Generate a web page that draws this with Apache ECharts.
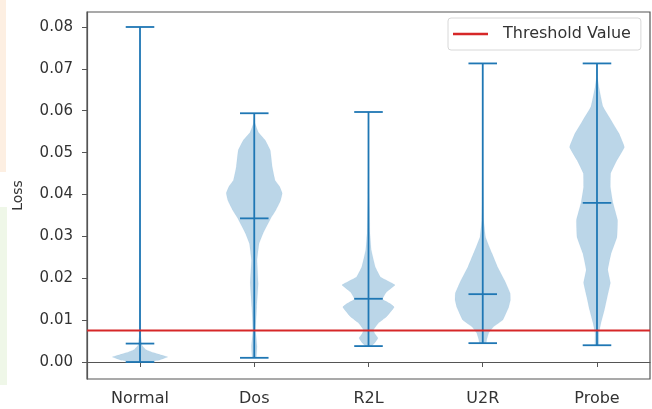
<!DOCTYPE html>
<html>
<head>
<meta charset="utf-8">
<script src="https://cdn.jsdelivr.net/npm/echarts@6/dist/echarts.min.js"></script>
<style>html,body{margin:0;padding:0;background:#fff}#c{width:652px;height:409px}</style>
</head>
<body>
<div id="c"></div>
<script>
const categories = ['Normal', 'Dos', 'R2L', 'U2R', 'Probe'];
const yTicks = [0, 0.01, 0.02, 0.03, 0.04, 0.05, 0.06, 0.07, 0.08];
const minLoss = [0.0, 0.001, 0.0038, 0.0045, 0.004];
const maxLoss = [0.08, 0.0594, 0.0597, 0.0713, 0.0713];
const meanLoss = [0.0044, 0.0343, 0.0151, 0.0162, 0.038];
const thresholdValue = 0.0075;

// density profiles: [loss, relative width]
const profileNormal = [[0.0, 0.3], [0.0004, 0.65], [0.0012, 0.97], [0.0018, 0.7], [0.0024, 0.4], [0.003, 0.2], [0.004, 0.07], [0.006, 0.035], [0.01, 0.02], [0.02, 0.01], [0.04, 0.005], [0.08, 0]];
const profileDos = [[0.001, 0.07], [0.0037, 0.1], [0.0076, 0.05], [0.0132, 0.09], [0.0188, 0.14], [0.0243, 0.1], [0.0283, 0.17], [0.0307, 0.31], [0.0343, 0.58], [0.0363, 0.76], [0.0385, 0.92], [0.0403, 0.98], [0.042, 0.88], [0.0434, 0.73], [0.0466, 0.63], [0.0506, 0.56], [0.053, 0.38], [0.0548, 0.15], [0.057, 0.03], [0.0594, 0]];
const profileR2L = [[0.0038, 0.1], [0.0045, 0.21], [0.0057, 0.33], [0.0066, 0.24], [0.0076, 0.17], [0.0093, 0.35], [0.0108, 0.63], [0.0131, 0.9], [0.014, 0.75], [0.015, 0.49], [0.0158, 0.55], [0.0167, 0.63], [0.0184, 0.93], [0.0193, 0.7], [0.0203, 0.42], [0.0227, 0.24], [0.0267, 0.1], [0.031, 0.05], [0.04, 0.02], [0.05, 0.01], [0.0597, 0]];
const profileU2R = [[0.0045, 0.12], [0.0053, 0.14], [0.0069, 0.21], [0.0084, 0.38], [0.01, 0.7], [0.0131, 0.91], [0.0148, 0.97], [0.0165, 0.96], [0.0196, 0.76], [0.0227, 0.52], [0.026, 0.32], [0.0298, 0.1], [0.0339, 0.035], [0.045, 0.01], [0.0713, 0]];
const profileProbe = [[0.004, 0.07], [0.0069, 0.07], [0.0093, 0.14], [0.0124, 0.26], [0.0155, 0.36], [0.0189, 0.47], [0.022, 0.38], [0.026, 0.5], [0.0298, 0.7], [0.0339, 0.72], [0.038, 0.56], [0.0418, 0.47], [0.0451, 0.48], [0.0482, 0.7], [0.0513, 0.96], [0.0546, 0.77], [0.0578, 0.49], [0.061, 0.21], [0.0656, 0.07], [0.068, 0.02], [0.0713, 0]];
const profiles = [profileNormal, profileDos, profileR2L, profileU2R, profileProbe];

const HALF = 0.25, CAP = 0.125;
const C0 = '#1f77b4';

const chart = echarts.init(document.getElementById('c'), null, {renderer: 'canvas'});
const idx = categories.map((c, i) => [i + 1]);

chart.setOption({
  animation: false,
  backgroundColor: '#fff',
  graphic: [
    {type: 'rect', left: 0, top: 0, shape: {width: 6, height: 172}, style: {fill: '#fdefe2'}, z: -10},
    {type: 'rect', left: 0, top: 207, shape: {width: 7, height: 178}, style: {fill: '#eff7e8'}, z: -10}
  ],
  grid: {left: 87, right: 2, top: 12, bottom: 30, show: true, borderColor: '#555', borderWidth: 1.2, backgroundColor: 'transparent'},
  legend: {
    left: 448, top: 18,
    padding: [8, 10, 8, 5],
    borderColor: '#d8d8d8', borderWidth: 1, borderRadius: 3,
    backgroundColor: 'rgba(255,255,255,0.85)',
    itemWidth: 35, itemHeight: 2.5,
    textStyle: {fontFamily: 'DejaVu Sans', fontSize: 16, color: '#333', padding: [0, 0, 0, 10]},
    data: [{name: 'Threshold Value', icon: 'rect', itemStyle: {color: '#d62728'}}]
  },
  xAxis: {
    type: 'value', min: 0.536, max: 5.464,
    splitLine: {show: false},
    axisLine: {show: true, lineStyle: {color: '#555', width: 1.2}},
    axisTick: {show: true, length: 5, lineStyle: {color: '#555'}, customValues: [1, 2, 3, 4, 5]},
    axisLabel: {customValues: [1, 2, 3, 4, 5], formatter: v => categories[Math.round(v) - 1] || '', fontFamily: 'DejaVu Sans', fontSize: 16, color: '#333', margin: 12}
  },
  yAxis: {
    type: 'value', min: -0.00406, max: 0.08358,
    name: 'Loss', nameLocation: 'middle', nameGap: 62, nameRotate: 90,
    nameTextStyle: {fontFamily: 'DejaVu Sans', fontSize: 14, color: '#333'},
    splitLine: {show: false},
    axisLine: {show: true, lineStyle: {color: '#555', width: 1.2}},
    axisTick: {show: true, length: 5, lineStyle: {color: '#555'}, customValues: yTicks},
    axisLabel: {customValues: yTicks, formatter: v => v.toFixed(2), fontFamily: 'DejaVu Sans', fontSize: 15, color: '#333', margin: 14}
  },
  series: [
    {
      type: 'custom', name: 'bodies', data: idx, silent: true, clip: true,
      renderItem: function (params, api) {
        const i = params.dataIndex;
        const pos = i + 1;
        const prof = profiles[i];
        const right = prof.map(p => api.coord([pos + p[1] * HALF, p[0]]));
        const left = prof.slice().reverse().map(p => api.coord([pos - p[1] * HALF, p[0]]));
        return {type: 'polygon', shape: {points: right.concat(left), smooth: 0.08}, style: {fill: C0, opacity: 0.3, stroke: C0, lineWidth: 0.5, strokeOpacity: 0.3}};
      }
    },
    {
      type: 'custom', name: 'extrema', data: idx, silent: true,
      renderItem: function (params, api) {
        const i = params.dataIndex;
        const pos = i + 1;
        const st = {stroke: C0, lineWidth: 1.8};
        const seg = (x1, y1, x2, y2) => {
          const a = api.coord([x1, y1]), b = api.coord([x2, y2]);
          return {type: 'line', shape: {x1: a[0], y1: a[1], x2: b[0], y2: b[1]}, style: st};
        };
        return {type: 'group', children: [
          seg(pos, minLoss[i], pos, maxLoss[i]),
          seg(pos - CAP, minLoss[i], pos + CAP, minLoss[i]),
          seg(pos - CAP, maxLoss[i], pos + CAP, maxLoss[i]),
          seg(pos - CAP, meanLoss[i], pos + CAP, meanLoss[i])
        ]};
      }
    },
    {
      type: 'line', name: 'Threshold Value', symbol: 'none', showSymbol: false,
      data: [[0.536, thresholdValue], [5.464, thresholdValue]],
      lineStyle: {color: '#d62728', width: 2}, itemStyle: {color: '#d62728'}, z: 5
    }
  ]
});
</script>
</body>
</html>
